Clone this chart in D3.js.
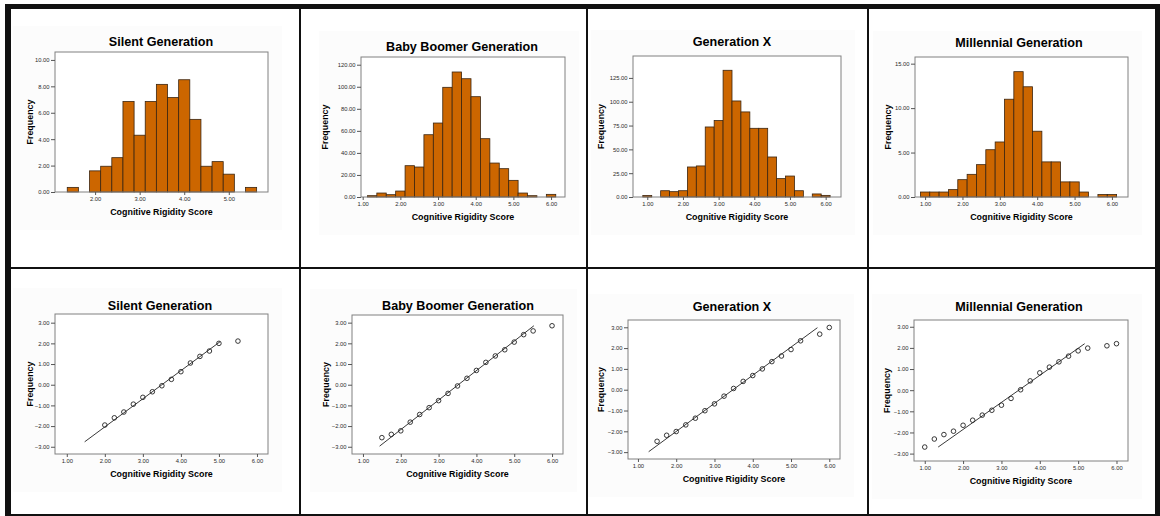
<!DOCTYPE html>
<html>
<head>
<meta charset="utf-8">
<script src="https://cdn.jsdelivr.net/npm/d3@7"></script>
<style>
  body { margin: 0; background: #fff; }
  svg { display: block; font-family: "Liberation Sans", Arial, sans-serif; }
  .tick text { fill: #2a2a2a; }
  .tick line { stroke: #555; }
</style>
</head>
<body>
<div id="chart"></div>
<script>
// ---- histogram data (bin centre, frequency) ----
const silentBins = [1.5, 2.0, 2.25, 2.5, 2.75, 3.0, 3.25, 3.5, 3.75, 4.0, 4.25, 4.5, 4.75, 5.0, 5.5];
const silentFreq = [0.35, 1.6, 1.95, 2.6, 6.85, 4.3, 6.85, 8.15, 7.15, 8.5, 5.5, 1.95, 2.3, 1.35, 0.35];

const boomerBins = [1.25, 1.5, 1.75, 2.0, 2.25, 2.5, 2.75, 3.0, 3.25, 3.5, 3.75, 4.0, 4.25, 4.5, 4.75, 5.0, 5.25, 5.5, 6.0];
const boomerFreq = [1.2, 3.6, 2.1, 5.4, 28.4, 27.2, 56.5, 67.1, 99.5, 113.4, 107.3, 91, 52.9, 30.8, 25.7, 15.1, 3.6, 1.2, 2.4];

const genxBins = [1.0, 1.5, 1.75, 2.0, 2.25, 2.5, 2.75, 3.0, 3.25, 3.5, 3.75, 4.0, 4.25, 4.5, 4.75, 5.0, 5.25, 5.75, 6.0];
const genxFreq = [1.6, 6.6, 5.6, 6.6, 31.5, 32.6, 73.5, 80.2, 133, 100.8, 89.3, 72.1, 72.1, 42, 19.3, 22, 6.6, 3.2, 1.7];

const millBins = [1.0, 1.25, 1.5, 1.75, 2.0, 2.25, 2.5, 2.75, 3.0, 3.25, 3.5, 3.75, 4.0, 4.25, 4.5, 4.75, 5.0, 5.25, 5.75, 6.0];
const millFreq = [0.56, 0.56, 0.56, 0.83, 1.95, 2.55, 3.64, 5.32, 6.19, 11.0, 14.1, 12.4, 7.4, 3.95, 3.95, 1.7, 1.7, 0.56, 0.28, 0.28];

// ---- normal Q-Q data (observed score, expected normal value) ----
const silentQX = [2.0, 2.25, 2.5, 2.75, 3.0, 3.25, 3.5, 3.75, 4.0, 4.25, 4.5, 4.75, 5.0, 5.5];
const silentQY = [-1.95, -1.6, -1.32, -0.94, -0.61, -0.34, -0.05, 0.26, 0.63, 1.05, 1.37, 1.63, 2.0, 2.11];
const silentLineX = [1.47, 5.03];
const silentLineY = [-2.76, 2.08];

const boomerQX = [1.5, 1.75, 2.0, 2.25, 2.5, 2.75, 3.0, 3.25, 3.5, 3.75, 4.0, 4.25, 4.5, 4.75, 5.0, 5.25, 5.5, 6.0];
const boomerQY = [-2.56, -2.4, -2.23, -1.81, -1.44, -1.11, -0.77, -0.42, -0.06, 0.31, 0.69, 1.08, 1.39, 1.69, 2.06, 2.42, 2.6, 2.85];
const boomerLineX = [1.44, 5.52];
const boomerLineY = [-2.97, 2.85];

const genxQX = [1.5, 1.75, 2.0, 2.25, 2.5, 2.75, 3.0, 3.25, 3.5, 3.75, 4.0, 4.25, 4.5, 4.75, 5.0, 5.25, 5.75, 6.0];
const genxQY = [-2.48, -2.19, -2.01, -1.69, -1.37, -1.01, -0.68, -0.31, 0.06, 0.4, 0.68, 1.0, 1.35, 1.62, 1.93, 2.35, 2.67, 2.99];
const genxLineX = [1.28, 5.69];
const genxLineY = [-2.98, 2.98];

const millQX = [1.0, 1.25, 1.5, 1.75, 2.0, 2.25, 2.5, 2.75, 3.0, 3.25, 3.5, 3.75, 4.0, 4.25, 4.5, 4.75, 5.0, 5.25, 5.75, 6.0];
const millQY = [-2.69, -2.31, -2.1, -1.94, -1.66, -1.42, -1.18, -0.95, -0.71, -0.39, 0.02, 0.44, 0.82, 1.09, 1.34, 1.61, 1.86, 1.99, 2.1, 2.2];
const millLineX = [1.35, 5.17];
const millLineY = [-2.69, 2.2];

// ---- labels and ticks ----
const titles = ["Silent Generation", "Baby Boomer Generation", "Generation X", "Millennial Generation"];
const xLabel = "Cognitive Rigidity Score";
const yLabel = "Frequency";
const silentXTicks = [2, 3, 4, 5];
const scoreTicks = [1, 2, 3, 4, 5, 6];
const silentYTicks = [0, 2, 4, 6, 8, 10];
const boomerYTicks = [0, 20, 40, 60, 80, 100, 120];
const genxYTicks = [0, 25, 50, 75, 100, 125];
const millYTicks = [0, 5, 10, 15];
const qqYTicks = [-3, -2, -1, 0, 1, 2, 3];

const binWidth = 0.25;

// ---- panel layout: frame box [left, top, right, bottom] in px ----
const panels = [
  { type: "hist", title: titles[0], bins: silentBins, freq: silentFreq, frame: [55, 52, 268, 192],
    xDom: [1.1, 5.88], yDom: [0, 10.6], xTicks: silentXTicks, yTicks: silentYTicks, titleX: 161, titleY: 46, ylabDx: 25 },
  { type: "hist", title: titles[1], bins: boomerBins, freq: boomerFreq, frame: [361, 57, 565, 197],
    xDom: [0.955, 6.37], yDom: [0, 127], xTicks: scoreTicks, yTicks: boomerYTicks, titleX: 462, titleY: 51, ylabDx: 36 },
  { type: "hist", title: titles[2], bins: genxBins, freq: genxFreq, frame: [633, 56, 841, 197],
    xDom: [0.6, 6.43], yDom: [0, 148], xTicks: scoreTicks, yTicks: genxYTicks, titleX: 732, titleY: 46, ylabDx: 32 },
  { type: "hist", title: titles[3], bins: millBins, freq: millFreq, frame: [915, 57, 1128, 197],
    xDom: [0.73, 6.43], yDom: [0, 15.75], xTicks: scoreTicks, yTicks: millYTicks, titleX: 1019, titleY: 47, ylabDx: 27 },
  { type: "qq", title: titles[0], qx: silentQX, qy: silentQY, lx: silentLineX, ly: silentLineY, frame: [55, 314, 268, 454],
    xDom: [0.69, 6.29], yDom: [-3.35, 3.42], xTicks: scoreTicks, yTicks: qqYTicks, titleX: 160, titleY: 310, ylabDx: 25 },
  { type: "qq", title: titles[1], qx: boomerQX, qy: boomerQY, lx: boomerLineX, ly: boomerLineY, frame: [352, 315, 563, 454],
    xDom: [0.71, 6.29], yDom: [-3.35, 3.37], xTicks: scoreTicks, yTicks: qqYTicks, titleX: 458, titleY: 310, ylabDx: 26 },
  { type: "qq", title: titles[2], qx: genxQX, qy: genxQY, lx: genxLineX, ly: genxLineY, frame: [628, 320, 840, 459],
    xDom: [0.74, 6.28], yDom: [-3.33, 3.35], xTicks: scoreTicks, yTicks: qqYTicks, titleX: 732, titleY: 311, ylabDx: 27 },
  { type: "qq", title: titles[3], qx: millQX, qy: millQY, lx: millLineX, ly: millLineY, frame: [914, 320, 1128, 461],
    xDom: [0.72, 6.3], yDom: [-3.35, 3.32], xTicks: scoreTicks, yTicks: qqYTicks, titleX: 1019, titleY: 311, ylabDx: 27 }
];

const W = 1160, H = 516;
const svg = d3.select("#chart").append("svg")
  .attr("width", W)
  .attr("height", H);

const fmt = d3.format(".2f");

panels.forEach(p => {
  const [l, t, r, b] = p.frame;
  const x = d3.scaleLinear().domain(p.xDom).range([l, r]);
  const y = d3.scaleLinear().domain(p.yDom).range([b, t]);
  const g = svg.append("g");

  // very faint chart background
  g.append("rect")
    .attr("x", l - 42).attr("y", t - 26)
    .attr("width", r - l + 56).attr("height", b - t + 64)
    .attr("fill", "#fcfcfc");

  g.append("rect")
    .attr("x", l).attr("y", t)
    .attr("width", r - l).attr("height", b - t)
    .attr("fill", "#fff");

  if (p.type === "hist") {
    g.selectAll(".bar")
      .data(p.bins.map((c, i) => ({ c: c, f: p.freq[i] })))
      .enter().append("rect")
      .attr("class", "bar")
      .attr("x", d => x(d.c - binWidth / 2))
      .attr("y", d => y(d.f))
      .attr("width", d => x(d.c + binWidth / 2) - x(d.c - binWidth / 2))
      .attr("height", d => y(0) - y(d.f))
      .attr("fill", "#cc6600")
      .attr("stroke", "#3b2510")
      .attr("stroke-width", 0.8);
  } else {
    const line = d3.line().x(d => x(d[0])).y(d => y(d[1]));
    g.append("path")
      .datum(p.lx.map((v, i) => [v, p.ly[i]]))
      .attr("d", line)
      .attr("fill", "none")
      .attr("stroke", "#222")
      .attr("stroke-width", 0.9);

    g.selectAll(".pt")
      .data(p.qx.map((v, i) => [v, p.qy[i]]))
      .enter().append("circle")
      .attr("class", "pt")
      .attr("cx", d => x(d[0]))
      .attr("cy", d => y(d[1]))
      .attr("r", 2.3)
      .attr("fill", "none")
      .attr("stroke", "#222")
      .attr("stroke-width", 0.9);
  }

  // frame
  g.append("rect")
    .attr("x", l).attr("y", t)
    .attr("width", r - l).attr("height", b - t)
    .attr("fill", "none")
    .attr("stroke", "#808080")
    .attr("stroke-width", 1);

  // axes
  const ax = g.append("g")
    .attr("transform", `translate(0,${b})`)
    .call(d3.axisBottom(x).tickValues(p.xTicks).tickSize(3).tickPadding(2).tickFormat(fmt));
  const ay = g.append("g")
    .attr("transform", `translate(${l},0)`)
    .call(d3.axisLeft(y).tickValues(p.yTicks).tickSize(4).tickPadding(1.5).tickFormat(fmt));
  [ax, ay].forEach(a => {
    a.select(".domain").remove();
    a.selectAll("text").style("font-size", "5.8px");
  });

  // titles and axis labels
  g.append("text")
    .attr("x", p.titleX).attr("y", p.titleY)
    .attr("text-anchor", "middle")
    .style("font-size", "12.6px").style("font-weight", "bold")
    .text(p.title);

  g.append("text")
    .attr("x", (l + r) / 2).attr("y", b + 23)
    .attr("text-anchor", "middle")
    .style("font-size", "8.9px").style("font-weight", "bold")
    .text(xLabel);

  g.append("text")
    .attr("transform", `translate(${l - p.ylabDx + 3},${(t + b) / 2}) rotate(-90)`)
    .attr("text-anchor", "middle")
    .style("font-size", "8.9px").style("font-weight", "bold")
    .text(yLabel);
});

// ---- black grid borders ----
const border = "#111";
[[5, 4, 1155, 5], [5, 4, 6, 512], [1155, 4, 5, 512], [5, 514, 1155, 2],
 [299, 9, 2, 505], [586, 9, 2, 505], [867, 9, 2, 505], [11, 267, 1144, 2]]
  .forEach(([bx, by, bw, bh]) => {
    svg.append("rect")
      .attr("x", bx).attr("y", by)
      .attr("width", bw).attr("height", bh)
      .attr("fill", border);
  });
</script>
</body>
</html>
